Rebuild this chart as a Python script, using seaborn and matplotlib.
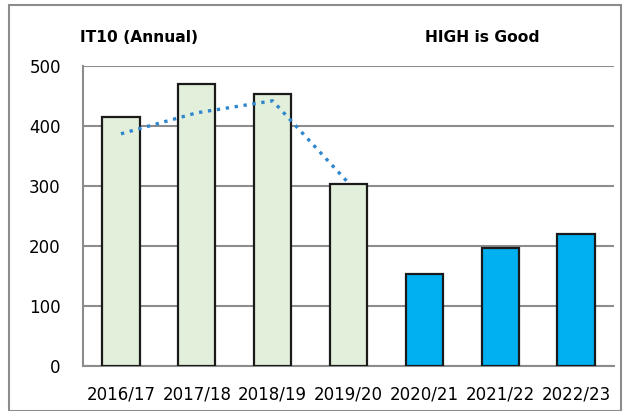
import matplotlib
matplotlib.use("Agg")
import matplotlib.pyplot as plt
from matplotlib.patches import Rectangle
import seaborn as sns
import pandas as pd
import numpy as np

years = ["2016/17", "2017/18", "2018/19", "2019/20", "2020/21", "2021/22", "2022/23"]
values = [415, 470, 454, 303, 154, 197, 220]
period = ["past", "past", "past", "past", "recent", "recent", "recent"]
trend = [387, 422, 442, 305]
yticks = [0, 100, 200, 300, 400, 500]

sns.set_theme(style="white")
plt.rcParams["font.family"] = ["DejaVu Sans"]
plt.rcParams["text.color"] = "black"

df = pd.DataFrame({"year": years, "value": values, "period": period})

fig = plt.figure(figsize=(6.30, 4.11), dpi=100)
fig.patches.append(Rectangle((9 / 630, 0.0), (621 - 9) / 630, 1 - 5 / 411,
                             transform=fig.transFigure, fill=False,
                             edgecolor="#8c8c8c", linewidth=1.5))
ax = fig.add_axes([83 / 630, 1 - 366 / 411, (614 - 83) / 630, (366 - 66) / 411])

sns.barplot(data=df, x="year", y="value", hue="period",
            palette={"past": "#E2EFDA", "recent": "#00B0F0"}, saturation=1,
            dodge=False, width=0.49, edgecolor="#1a1a1a", linewidth=1.6,
            legend=False, ax=ax, zorder=3)

ax.plot(years[:len(trend)], trend, linestyle=(0, (1, 1.7)), color="#2F86CC",
        linewidth=2.4, zorder=4)

ax.set_ylim(0, 500)
ax.set_xlim(-0.5, len(years) - 0.5)
ax.set_yticks(yticks)
ax.set_yticklabels([str(v) for v in yticks], fontsize=12)
ax.yaxis.grid(True, color="#8c8c8c", linewidth=1.5, zorder=0)
ax.set_axisbelow(True)
ax.tick_params(axis="y", length=12, width=1.5, color="#8c8c8c", pad=4, labelcolor="black")
ax.set_xticks(range(len(years)))
ax.set_xticklabels(years, fontsize=12)
ax.tick_params(axis="x", which="major", length=0, pad=14, labelcolor="black")
ax.set_xticks(np.arange(-0.5, len(years)), minor=True)
ax.tick_params(axis="x", which="minor", length=8, width=1.5, color="#8c8c8c")
ax.set_xlabel("")
ax.set_ylabel("")

for side in ["top", "right"]:
    ax.spines[side].set_visible(False)
for side in ["left", "bottom"]:
    ax.spines[side].set_color("#8c8c8c")
    ax.spines[side].set_linewidth(1.5)

fig.text(80 / 630, 1 - 37 / 411, "IT10 (Annual)", fontsize=11.2, fontweight="bold",
         va="center", ha="left", color="black")
fig.text(425 / 630, 1 - 37 / 411, "HIGH is Good", fontsize=11.2, fontweight="bold",
         va="center", ha="left", color="black")

fig.savefig("out.png", dpi=100)
